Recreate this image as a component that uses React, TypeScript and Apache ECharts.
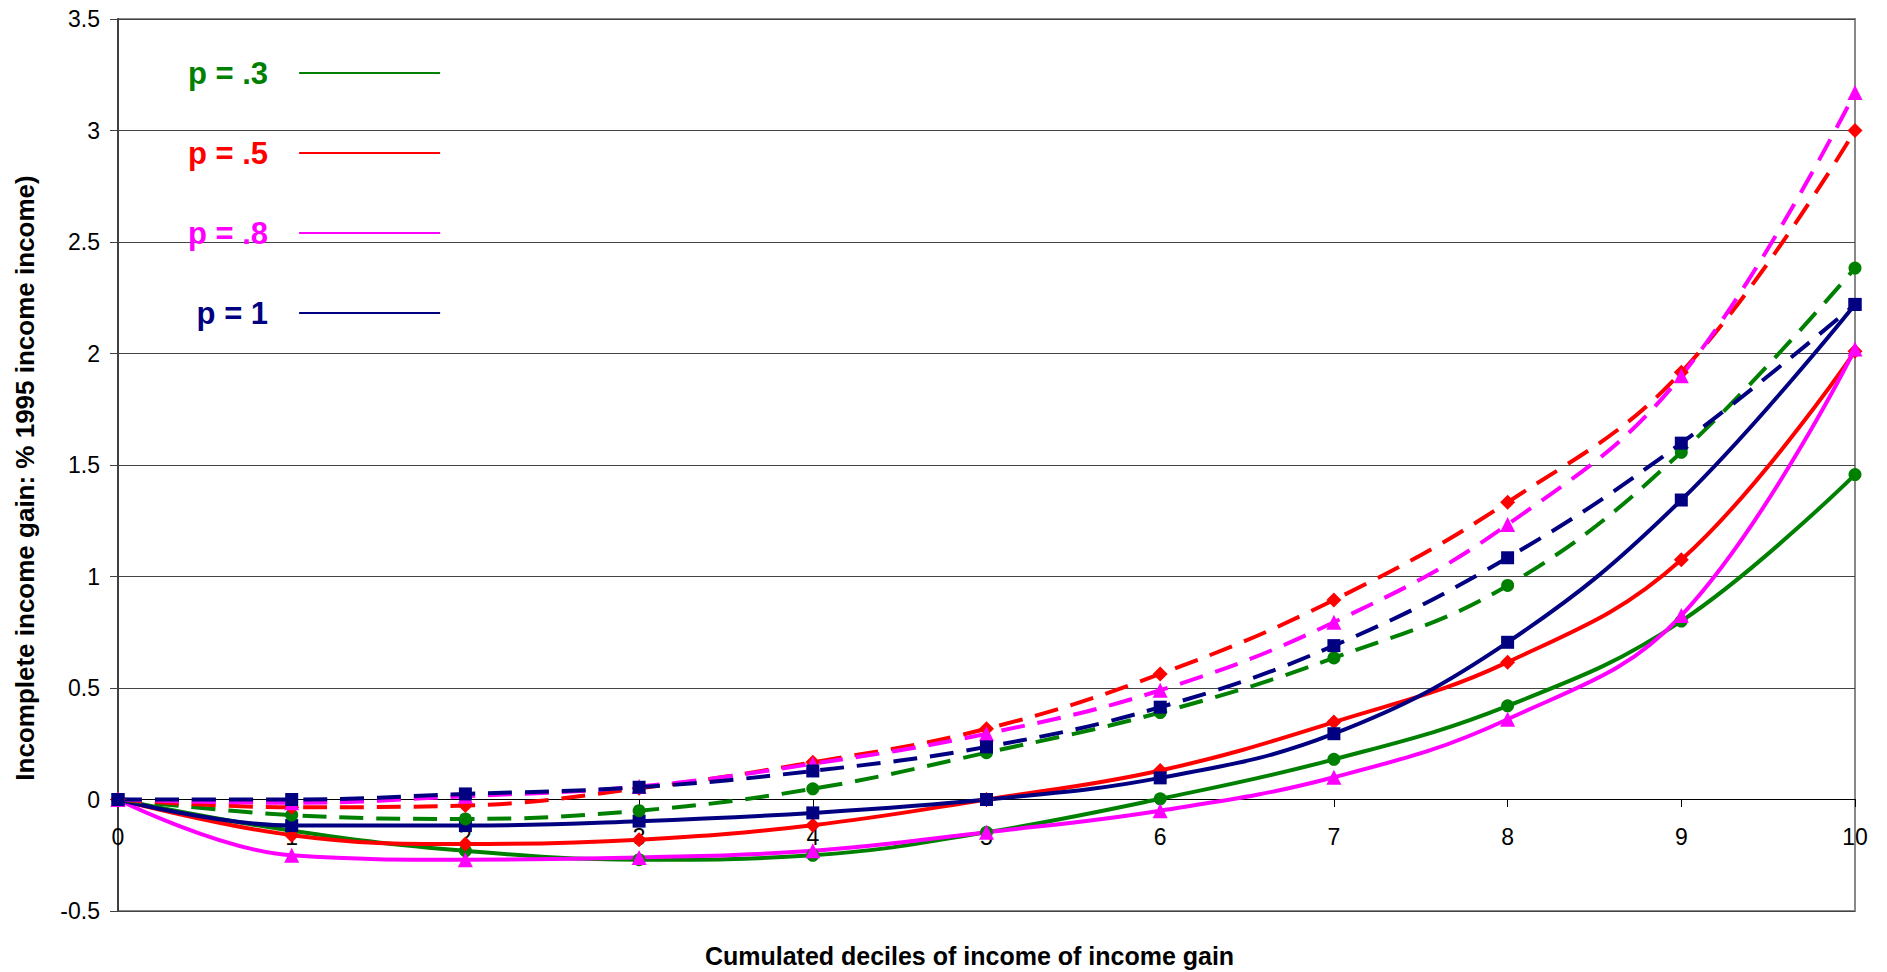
import { useEffect, useRef } from "react"
import * as echarts from "echarts"

const deciles = [0, 1, 2, 3, 4, 5, 6, 7, 8, 9, 10]
const legendNames = ["p = .3", "p = .5", "p = .8", "p = 1"]
const colors = ["#008000", "#FF0000", "#FF00FF", "#000080"]
const symbols = ["circle", "diamond", "triangle", "rect"]
const symbolSizes = [13, 15, 15, 13]

// solid curves
const solid03 = [0, -0.14, -0.23, -0.27, -0.25, -0.147, 0.003, 0.18, 0.42, 0.8, 1.457]
const solid05 = [0, -0.16, -0.2, -0.18, -0.115, 0, 0.13, 0.347, 0.616, 1.075, 2.01]
const solid08 = [0, -0.25, -0.27, -0.26, -0.23, -0.147, -0.05, 0.1, 0.36, 0.825, 2.02]
const solid1 = [0, -0.117, -0.117, -0.097, -0.06, 0, 0.097, 0.295, 0.705, 1.343, 2.22]

// dashed curves
const dashed03 = [0, -0.07, -0.087, -0.05, 0.048, 0.21, 0.39, 0.635, 0.96, 1.557, 2.383]
const dashed05 = [0, -0.035, -0.027, 0.05, 0.167, 0.317, 0.563, 0.895, 1.333, 1.916, 3.0]
const dashed08 = [0, -0.015, 0.015, 0.058, 0.16, 0.295, 0.49, 0.795, 1.233, 1.9, 3.17]
const dashed1 = [0, 0, 0.025, 0.055, 0.128, 0.236, 0.414, 0.69, 1.084, 1.598, 2.22]

const solidSets = [solid03, solid05, solid08, solid1]
const dashedSets = [dashed03, dashed05, dashed08, dashed1]

const FONT = "'Liberation Sans', Arial, sans-serif"

export default function App() {
  const chartRef = useRef<HTMLDivElement>(null)

  useEffect(() => {
    if (!chartRef.current) return
    const chart = echarts.init(chartRef.current, undefined, { renderer: "svg" })

    const makeSeries = (sets: number[][], dashed: boolean) =>
      sets.map((vals, i) => ({
        name: dashed ? legendNames[i] + " (cumulated)" : legendNames[i],
        type: "line",
        data: vals.map((v, k) => [deciles[k], v]),
        smooth: 0.4,
        symbol: symbols[i],
        symbolSize: symbolSizes[i],
        showAllSymbol: true,
        itemStyle: { color: colors[i] },
        lineStyle: {
          color: colors[i],
          width: 4,
          type: dashed ? [24, 13] : "solid",
        },
      }))

    chart.setOption({
      animation: false,
      textStyle: { fontFamily: FONT },
      grid: {
        left: 118,
        right: 32,
        top: 19,
        bottom: 61,
        containLabel: false,
        outerBoundsMode: "none",
        show: true,
        borderColor: "#888888",
        borderWidth: 2,
      },
      legend: {
        orient: "vertical",
        left: 188,
        top: 52,
        padding: 0,
        align: "right",
        icon: "rect",
        itemWidth: 141,
        itemHeight: 2,
        itemGap: 38,
        selectedMode: false,
        data: legendNames.map((n, i) => ({
          name: n,
          textStyle: {
            color: colors[i],
            fontWeight: "bold",
            fontSize: 31,
            lineHeight: 36,
            fontFamily: FONT,
            padding: [6, 26, 0, 0],
          },
        })),
      },
      xAxis: {
        type: "value",
        min: 0,
        max: 10,
        interval: 1,
        offset: -112,
        name: "Cumulated deciles of income of income gain",
        nameLocation: "middle",
        nameGap: 144,
        nameTextStyle: {
          fontSize: 25,
          fontWeight: "bold",
          color: "#000",
          fontFamily: FONT,
          padding: [0, 34, 0, 0],
        },
        axisLine: { onZero: false, lineStyle: { color: "#000", width: 1 } },
        axisTick: { show: true, length: 8, lineStyle: { color: "#000" } },
        axisLabel: { color: "#000", fontSize: 23, margin: 26, fontFamily: FONT },
        splitLine: { show: false },
      },
      yAxis: {
        type: "value",
        min: -0.5,
        max: 3.5,
        interval: 0.5,
        name: "Incomplete income gain: % 1995 income income)",
        nameLocation: "middle",
        nameGap: 80,
        nameTextStyle: {
          fontSize: 26,
          fontWeight: "bold",
          color: "#000",
          fontFamily: FONT,
          padding: [0, 26, 0, 0],
        },
        axisLine: { show: true, onZero: false, lineStyle: { color: "#404040", width: 2 } },
        axisTick: { show: true, length: 8, lineStyle: { color: "#404040" } },
        axisLabel: { color: "#000", fontSize: 23, margin: 18, fontFamily: FONT },
        splitLine: { show: true, lineStyle: { color: "#444444", width: 1 } },
      },
      series: [...makeSeries(solidSets, false), ...makeSeries(dashedSets, true)],
    })

    return () => {
      chart.dispose()
    }
  }, [])

  return (
    <div
      ref={chartRef}
      style={{ position: "fixed", left: 0, top: 0, width: 1887, height: 972, background: "#fff" }}
    />
  )
}
